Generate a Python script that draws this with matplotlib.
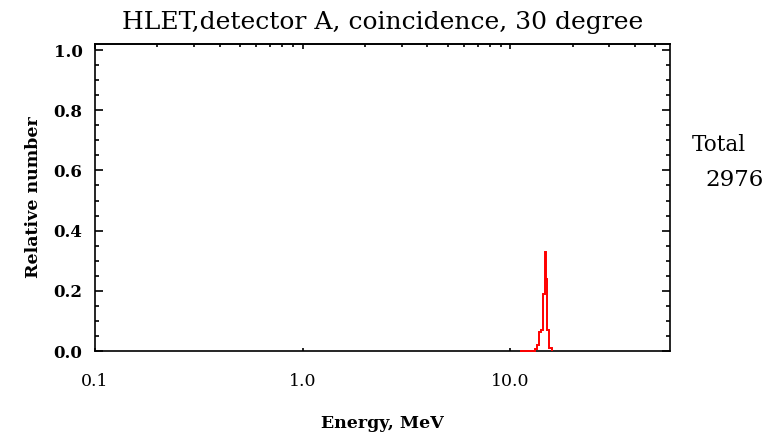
import numpy as np
import matplotlib.pyplot as plt
from matplotlib.ticker import FixedLocator, LogLocator, NullFormatter, MultipleLocator, NullLocator

# histogram of deposited energy (MeV), relative counts
edges = [11.2, 13.2, 13.5, 13.8, 14.1, 14.4, 14.7, 14.9, 15.1, 15.4, 15.9]
rel = [0.0, 0.008, 0.02, 0.063, 0.07, 0.19, 0.33, 0.24, 0.07, 0.01]
xticks = [0.1, 1.0, 10.0]
xticklabels = ["0.1", "1.0", "10.0"]
yticks = [0.0, 0.2, 0.4, 0.6, 0.8, 1.0]
total = 2976

plt.rcParams['font.family'] = ['DejaVu Serif']

fig = plt.figure(figsize=(7.84, 4.33), dpi=100)
ax = fig.add_axes([95/784, 1-351/433, (670-95)/784, (351-44)/433])

ax.stairs(rel, edges, color='red', lw=1.4, clip_on=False, zorder=5)

ax.set_xscale('log')
ax.set_xlim(0.1, 59)
ax.set_ylim(0, 1.02)

for s in ax.spines.values():
    s.set_linewidth(1.2)

ax.xaxis.set_major_locator(FixedLocator(xticks))
ax.set_xticklabels(xticklabels)
ax.xaxis.set_minor_locator(NullLocator())
ax.tick_params(axis='x', which='major', direction='in', length=2.5, width=1.2,
               pad=16, labelsize=12.5)

top = ax.secondary_xaxis('top')
top.xaxis.set_major_locator(FixedLocator(xticks))
top.xaxis.set_minor_locator(LogLocator(base=10, subs=np.arange(2, 10)))
top.xaxis.set_major_formatter(NullFormatter())
top.xaxis.set_minor_formatter(NullFormatter())
top.tick_params(which='major', direction='in', length=3.5, width=1.2)
top.tick_params(which='minor', direction='in', length=2, width=1.2)
top.spines['top'].set_linewidth(1.2)

ax.yaxis.set_major_locator(FixedLocator(yticks))
ax.yaxis.set_minor_locator(MultipleLocator(0.05))
ax.set_yticklabels(["%.1f" % v for v in yticks], fontweight='bold')
ax.tick_params(axis='y', which='major', direction='in', length=6, width=1.2,
               pad=9, labelsize=12, right=True)
ax.tick_params(axis='y', which='minor', direction='in', length=3, width=1.2, right=True)

ax.set_title("HLET,detector A, coincidence, 30 degree", fontsize=18, pad=11)
ax.set_xlabel("Energy, MeV", fontsize=12.5, fontweight='bold', labelpad=18)
ax.set_ylabel("Relative number", fontsize=12.5, fontweight='bold', labelpad=8)

fig.text(692/784, 1-145/433, "Total", fontsize=15.5, va='center', ha='left')
fig.text(705/784, 1-180/433, str(total), fontsize=16.5, va='center', ha='left')

fig.savefig("out.png", dpi=100)
